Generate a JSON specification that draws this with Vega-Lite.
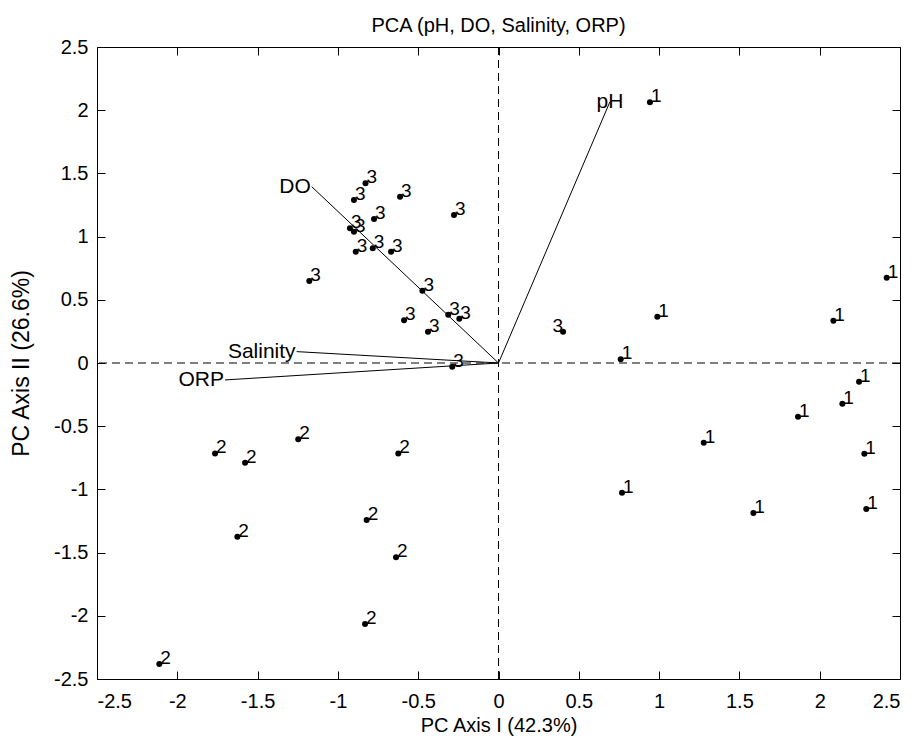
{
  "$schema": "https://vega.github.io/schema/vega-lite/v6.json",
  "width": 803,
  "height": 632,
  "autosize": {"type": "none"},
  "padding": {"left": 97, "top": 47, "right": 20, "bottom": 63},
  "background": "white",
  "title": {"text": "PCA (pH, DO, Salinity, ORP)", "font": "Liberation Sans", "fontSize": 20, "fontWeight": "normal", "color": "black", "offset": 1},
  "config": {
    "view": {"stroke": "black", "strokeWidth": 1},
    "axis": {"domain": false, "grid": false, "labelFont": "Liberation Sans", "titleFont": "Liberation Sans", "labelFontSize": 20, "titleFontSize": 20, "titleFontWeight": "normal", "labelColor": "black", "titleColor": "black", "tickColor": "black", "tickSize": -8, "labelPadding": 17}
  },
  "datasets": {
    "scores": [
      {"grp": "1", "x": 0.943, "y": 2.062},
      {"grp": "1", "x": 2.417, "y": 0.675},
      {"grp": "1", "x": 0.989, "y": 0.366},
      {"grp": "1", "x": 2.085, "y": 0.335},
      {"grp": "1", "x": 0.761, "y": 0.029},
      {"grp": "1", "x": 2.245, "y": -0.148},
      {"grp": "1", "x": 2.141, "y": -0.322},
      {"grp": "1", "x": 1.865, "y": -0.425},
      {"grp": "1", "x": 1.278, "y": -0.63},
      {"grp": "1", "x": 2.278, "y": -0.717},
      {"grp": "1", "x": 0.769, "y": -1.026},
      {"grp": "1", "x": 1.587, "y": -1.187},
      {"grp": "1", "x": 2.29, "y": -1.155},
      {"grp": "2", "x": -1.765, "y": -0.715},
      {"grp": "2", "x": -1.578, "y": -0.789},
      {"grp": "2", "x": -1.247, "y": -0.604},
      {"grp": "2", "x": -0.624, "y": -0.715},
      {"grp": "2", "x": -1.626, "y": -1.374},
      {"grp": "2", "x": -0.821, "y": -1.242},
      {"grp": "2", "x": -0.638, "y": -1.537},
      {"grp": "2", "x": -0.831, "y": -2.065},
      {"grp": "2", "x": -2.112, "y": -2.381},
      {"grp": "3", "x": -0.828, "y": 1.422},
      {"grp": "3", "x": -0.9, "y": 1.29},
      {"grp": "3", "x": -0.613, "y": 1.316},
      {"grp": "3", "x": -0.277, "y": 1.171},
      {"grp": "3", "x": -0.775, "y": 1.139},
      {"grp": "3", "x": -0.925, "y": 1.066},
      {"grp": "3", "x": -0.9, "y": 1.039},
      {"grp": "3", "x": -0.889, "y": 0.881},
      {"grp": "3", "x": -0.783, "y": 0.907},
      {"grp": "3", "x": -0.669, "y": 0.881},
      {"grp": "3", "x": -1.178, "y": 0.649},
      {"grp": "3", "x": -0.474, "y": 0.572},
      {"grp": "3", "x": -0.588, "y": 0.338},
      {"grp": "3", "x": -0.313, "y": 0.382},
      {"grp": "3", "x": -0.244, "y": 0.351},
      {"grp": "3", "x": -0.439, "y": 0.248},
      {"grp": "3", "x": -0.288, "y": -0.029},
      {"grp": "3", "x": 0.402, "y": 0.248}
    ],
    "loadings": [
      {"var": "pH", "x": 0.694, "y": 2.067},
      {"var": "DO", "x": -1.163, "y": 1.395},
      {"var": "Salinity", "x": -1.257, "y": 0.09},
      {"var": "ORP", "x": -1.703, "y": -0.134}
    ],
    "origin": [{"v": 0}]
  },
  "resolve": {"axis": {"x": "independent", "y": "independent"}},
  "layer": [
    {
      "data": {"name": "origin"},
      "mark": {"type": "rule", "color": "black", "strokeWidth": 1, "strokeDash": [8, 5]},
      "encoding": {"y": {"field": "v", "type": "quantitative", "scale": {"domain": [-2.5, 2.5], "nice": false, "zero": false}, "axis": null}}
    },
    {
      "data": {"name": "origin"},
      "mark": {"type": "rule", "color": "black", "strokeWidth": 1, "strokeDash": [8, 5]},
      "encoding": {"x": {"field": "v", "type": "quantitative", "scale": {"domain": [-2.5, 2.5], "nice": false, "zero": false}, "axis": null}}
    },
    {
      "data": {"name": "loadings"},
      "mark": {"type": "rule", "color": "black", "strokeWidth": 1},
      "encoding": {
        "x": {"field": "x", "type": "quantitative", "scale": {"domain": [-2.5, 2.5], "nice": false, "zero": false}, "axis": null},
        "y": {"field": "y", "type": "quantitative", "scale": {"domain": [-2.5, 2.5], "nice": false, "zero": false}, "axis": null},
        "x2": {"datum": 0},
        "y2": {"datum": 0}
      }
    },
    {
      "data": {"name": "loadings"},
      "transform": [{"filter": "datum.var != 'pH'"}],
      "mark": {"type": "text", "align": "right", "baseline": "middle", "font": "Liberation Sans", "fontSize": 21, "color": "black", "dx": -1},
      "encoding": {
        "x": {"field": "x", "type": "quantitative", "scale": {"domain": [-2.5, 2.5], "nice": false, "zero": false}, "axis": null},
        "y": {"field": "y", "type": "quantitative", "scale": {"domain": [-2.5, 2.5], "nice": false, "zero": false}, "axis": null},
        "text": {"field": "var"}
      }
    },
    {
      "data": {"name": "loadings"},
      "transform": [{"filter": "datum.var == 'pH'"}],
      "mark": {"type": "text", "align": "center", "baseline": "middle", "font": "Liberation Sans", "fontSize": 21, "color": "black"},
      "encoding": {
        "x": {"field": "x", "type": "quantitative", "scale": {"domain": [-2.5, 2.5], "nice": false, "zero": false}, "axis": null},
        "y": {"field": "y", "type": "quantitative", "scale": {"domain": [-2.5, 2.5], "nice": false, "zero": false}, "axis": null},
        "text": {"field": "var"}
      }
    },
    {
      "data": {"name": "scores"},
      "mark": {"type": "circle", "color": "black", "opacity": 1, "size": 36},
      "encoding": {
        "x": {"field": "x", "type": "quantitative", "scale": {"domain": [-2.5, 2.5], "nice": false, "zero": false},
          "axis": {"orient": "bottom", "values": [-2.5, -2, -1.5, -1, -0.5, 0, 0.5, 1, 1.5, 2, 2.5], "labelExpr": "'' + datum.value", "title": "PC Axis I (42.3%)", "titlePadding": 4, "labelPadding": 20}},
        "y": {"field": "y", "type": "quantitative", "scale": {"domain": [-2.5, 2.5], "nice": false, "zero": false},
          "axis": {"orient": "left", "values": [-2.5, -2, -1.5, -1, -0.5, 0, 0.5, 1, 1.5, 2, 2.5], "labelExpr": "'' + datum.value", "title": "PC Axis II (26.6%)", "titleFontSize": 23, "titlePadding": 20, "labelPadding": 17}}
      }
    },
    {
      "data": {"name": "scores"},
      "transform": [{"filter": "!(datum.grp == '3' && datum.x > 0)"}],
      "mark": {"type": "text", "align": "left", "baseline": "alphabetic", "font": "Liberation Sans", "fontSize": 19, "color": "black", "dx": 1, "dy": 0},
      "encoding": {
        "x": {"field": "x", "type": "quantitative", "scale": {"domain": [-2.5, 2.5], "nice": false, "zero": false},
          "axis": {"orient": "top", "values": [-2.5, -2, -1.5, -1, -0.5, 0, 0.5, 1, 1.5, 2, 2.5], "labels": false, "title": null}},
        "y": {"field": "y", "type": "quantitative", "scale": {"domain": [-2.5, 2.5], "nice": false, "zero": false},
          "axis": {"orient": "right", "values": [-2.5, -2, -1.5, -1, -0.5, 0, 0.5, 1, 1.5, 2, 2.5], "labels": false, "title": null}},
        "text": {"field": "grp"}
      }
    },
    {
      "data": {"name": "scores"},
      "transform": [{"filter": "datum.grp == '3' && datum.x > 0"}],
      "mark": {"type": "text", "align": "right", "baseline": "alphabetic", "font": "Liberation Sans", "fontSize": 19, "color": "black", "dx": 0, "dy": 0},
      "encoding": {
        "x": {"field": "x", "type": "quantitative", "scale": {"domain": [-2.5, 2.5], "nice": false, "zero": false}, "axis": null},
        "y": {"field": "y", "type": "quantitative", "scale": {"domain": [-2.5, 2.5], "nice": false, "zero": false}, "axis": null},
        "text": {"field": "grp"}
      }
    }
  ]
}
